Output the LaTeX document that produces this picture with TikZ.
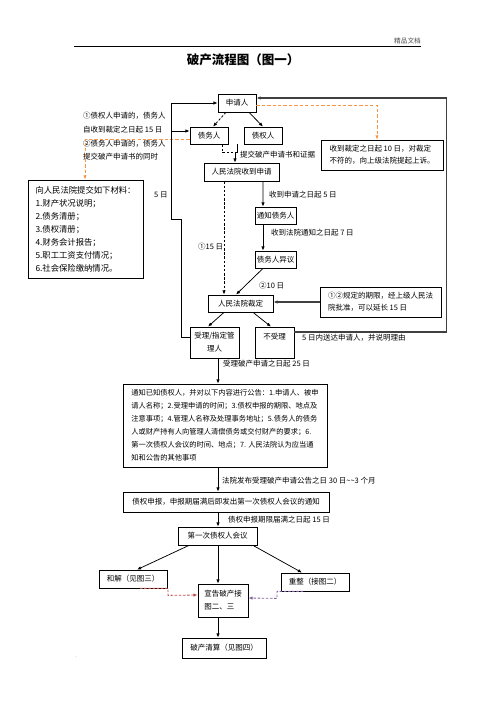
\documentclass[tikz,border=0pt]{standalone}
\usepackage{fontspec}
\setmainfont{Noto Sans CJK SC}
\usetikzlibrary{arrows.meta,calc}
\definecolor{orangeD}{RGB}{247,150,70}
\definecolor{redD}{RGB}{192,80,77}
\definecolor{purpD}{RGB}{128,100,162}
\begin{document}
\begin{tikzpicture}[x=1.2pt,y=-1.2pt,
  box/.style 2 args={draw, line width=0.9pt, inner sep=0pt, minimum width=#1*1.2pt, minimum height=#2*1.2pt, font=\fontsize{9pt}{15.6pt}\selectfont, align=center},
  lbl/.style={anchor=west, inner sep=0pt, font=\fontsize{9pt}{11pt}\selectfont},
  tip/.style={-{Latex[length=5pt,width=4pt]}},
  conn/.style={line width=0.9pt, tip},
  plain/.style={line width=0.9pt},
  dconn/.style={conn, dash pattern=on 3pt off 2pt},
  thick2/.style={conn, line width=1.4pt, black!75},
  odash/.style={orangeD, line width=1pt, dash pattern=on 4pt off 2.5pt},
 ]
\useasboundingbox (0,0) rectangle (496,702);
% header
\coordinate (hl) at (74,46);
\coordinate (hr) at (421,46);
\draw[line width=0.9pt] (hl) -- (hr);
\node[anchor=south east, inner sep=0pt, font=\fontsize{8pt}{8pt}\selectfont, text=black!70] (hdr) at (421,44) {精品文档};
\node[font=\fontsize{15pt}{15pt}\selectfont\bfseries, inner sep=0pt] (title) at (243,60) {破产流程图（图一）};

% boxes
\node[box={38}{18}] (sq) at (237,103) {申请人};
\node[box={38}{17}] (dw) at (209,135.5) {债务人};
\node[box={38}{17}] (zq) at (263,135.5) {债权人};
\node[box={75}{18}] (sy) at (241.5,172) {人民法院收到申请};
\node[box={41}{17}] (tz) at (275.5,215.5) {通知债务人};
\node[box={41}{17}] (yy) at (275.5,259.5) {债务人异议};
\node[box={65}{17}] (cd) at (240.5,303.5) {人民法院裁定};
\node[box={49}{31}] (sl) at (214.5,342.5) {受理/指定管\\理人};
\node[box={39}{31}] (bsl) at (274.5,342.5) {不受理\\\mbox{}};
\node[box={122}{30}, align=left, font=\fontsize{9pt}{14.4pt}\selectfont] (ss) at (382,155) {收到裁定之日起 10 日，对裁定\\不符的，向上级法院提起上诉。};
\node[box={121}{30}, align=left, font=\fontsize{9pt}{14.4pt}\selectfont] (ys) at (380.5,302) {①②规定的期限，经上级人民法\\院批准，可以延长 15 日};
\node[box={115}{98}, align=left, font=\fontsize{10pt}{15.6pt}\selectfont] (cl) at (85.5,229) {向人民法院提交如下材料：\\1.财产状况说明；\\2.债务清册；\\3.债权清册；\\4.财务会计报告；\\5.职工工资支付情况；\\6.社会保险缴纳情况。};
\node[box={204}{83}, align=left, font=\fontsize{8.7pt}{15.5pt}\selectfont] (gg) at (225,425.5) {通知已知债权人，并对以下内容进行公告：1.申请人、被申\\请人名称；2.受理申请的时间；3.债权申报的期限、地点及\\注意事项；4.管理人名称及处理事务地址；5.债务人的债务\\人或财产持有人向管理人清偿债务或交付财产的要求；6.\\第一次债权人会议的时间、地点；7. 人民法院认为应当通\\知和公告的其他事项};
\node[box={206}{20}] (sb) at (226,502) {债权申报，申报期届满后即发出第一次债权人会议的通知};
\node[box={79}{18}] (hy) at (217.5,536) {第一次债权人会议};
\node[box={68}{18}] (hj) at (133,579) {和解（见图三）};
\node[box={68}{18}] (cz) at (315,582) {重整（接图二）};
\node[box={50}{33}, align=left] (xg) at (223,600.5) {宣告破产接\\图二、三};
\node[box={84}{20}] (qs) at (224,648) {破产清算（见图四）};

% free labels
\node[lbl] (t1) at (83,116) {①债权人申请的，债务人};
\node[lbl] (t2) at (83,130) {自收到裁定之日起 15 日};
\node[lbl] (t3) at (83,143.5) {②债务人申请的，债务人};
\node[lbl] (t4) at (83,157) {提交破产申请书的同时};
\node[lbl] (l1) at (240,155) {提交破产申请书和证据};
\node[lbl] (l2) at (269,195) {收到申请之日起 5 日};
\node[lbl] (l3) at (271,233) {收到法院通知之日起 7 日};
\node[lbl] (l4) at (198,247) {①15 日};
\node[lbl] (l5) at (259,286) {②10 日};
\node[lbl] (l6) at (154,195) {5 日};
\node[lbl] (l7) at (302,338) {5 日内送达申请人，并说明理由};
\node[lbl] (l8) at (223,364) {受理破产申请之日起 25 日};
\node[lbl] (l9) at (222,481) {法院发布受理破产申请公告之日 30 日\textasciitilde\textasciitilde 3 个月};
\node[lbl] (l10) at (228,520) {债权申报期限届满之日起 15 日};
\node[inner sep=0pt, font=\fontsize{6pt}{6pt}\selectfont, text=black!60] (dot) at (76,657) {.};

% connectors
\coordinate (colx) at (218,0);
\draw[dconn] ($(sq.south)+(-11,0)$) -- ($(dw.north)+(4,0)$);
\draw[conn] ($(sq.south)+(12,0)$) -- ($(zq.north)+(0,0)$);
\draw[plain, dash pattern=on 3pt off 2pt] ($(dw.south)+(13,0)$) -- ++(0,8) -- ++(12,0);
\draw[conn] ($(zq.south)+(-26,0)$) -- ++(0,8) -- ++(-2,0) -- ($(sy.north)+(-6.5,0)$);
\draw[conn] ($(sy.south)+(21.5,0)$) -- ($(tz.north)+(-12.5,0)$);
\draw[conn] ($(tz.south)+(-12.5,0)$) -- ($(yy.north)+(-12.5,0)$);
\draw[conn] ($(yy.south)+(-12.5,0)$) -- ($(cd.north)+(-4.5,0)$);
\draw[dconn] ($(sy.south)+(-17.5,0)$) -- ($(cd.north)+(-16.5,0)$);
\draw[thick2] (ys.west) -- (ys.west -| cd.east);
\draw[conn] ($(cd.south)+(-16.5,0)$) -- ($(sl.north)+(-6.5,0)$);
\draw[conn] ($(cd.south)+(12.5,0)$) -- ($(bsl.north)+(-3.5,0)$);
\draw[conn] (sl.south -| colx) -- (gg.north -| colx);
\draw[conn] (gg.south -| colx) -- (sb.north -| colx);
\draw[conn] (sb.south -| colx) -- (hy.north -| colx);
\draw[conn] ($(hy.south)+(-28.5,0)$) -- ($(hj.north)+(4,0)$);
\draw[conn] (hy.south -| colx) -- (xg.north -| colx);
\draw[conn] ($(hy.south)+(35.5,0)$) -- ($(cz.north)+(-13,0)$);
\draw[conn] (xg.south -| colx) -- (qs.north -| colx);
\draw[redD, line width=1pt, dash pattern=on 3pt off 2pt, tip] ($(hj.south)+(7,0)$) -- ++(28,0) -- ++(0,7) -- ($(xg.west)+(0,-5.5)$);
\draw[purpD, line width=1pt, dash pattern=on 3pt off 2pt, tip] ($(cz.south)+(-12,0)$) -- ++(-26,0) -- ++(0,7) -- ($(xg.east)+(0,-2.5)$);
\draw[odash, tip] ($(sq.east)+(0,2)$) -| ($(ss.north)+(-5,0)$);
\draw[odash, tip] ($(dw.west)+(0,3.5)$) -| ($(cl.north)+(-0.5,0)$);
\draw[conn] ($(sl.west)+(0,-5.5)$) -- ++(-8,0) -- ++(0,-118) -- ++(-10,0) |- (sq.west);
\coordinate (lb) at (172,131);
\draw[conn] (lb) -- (lb -| dw.west);
\draw[thick2] ($(bsl.east)+(0,-10.5)$) -- ++(152,0) |- ($(sq.east)+(0,-5)$);
\end{tikzpicture}
\end{document}
